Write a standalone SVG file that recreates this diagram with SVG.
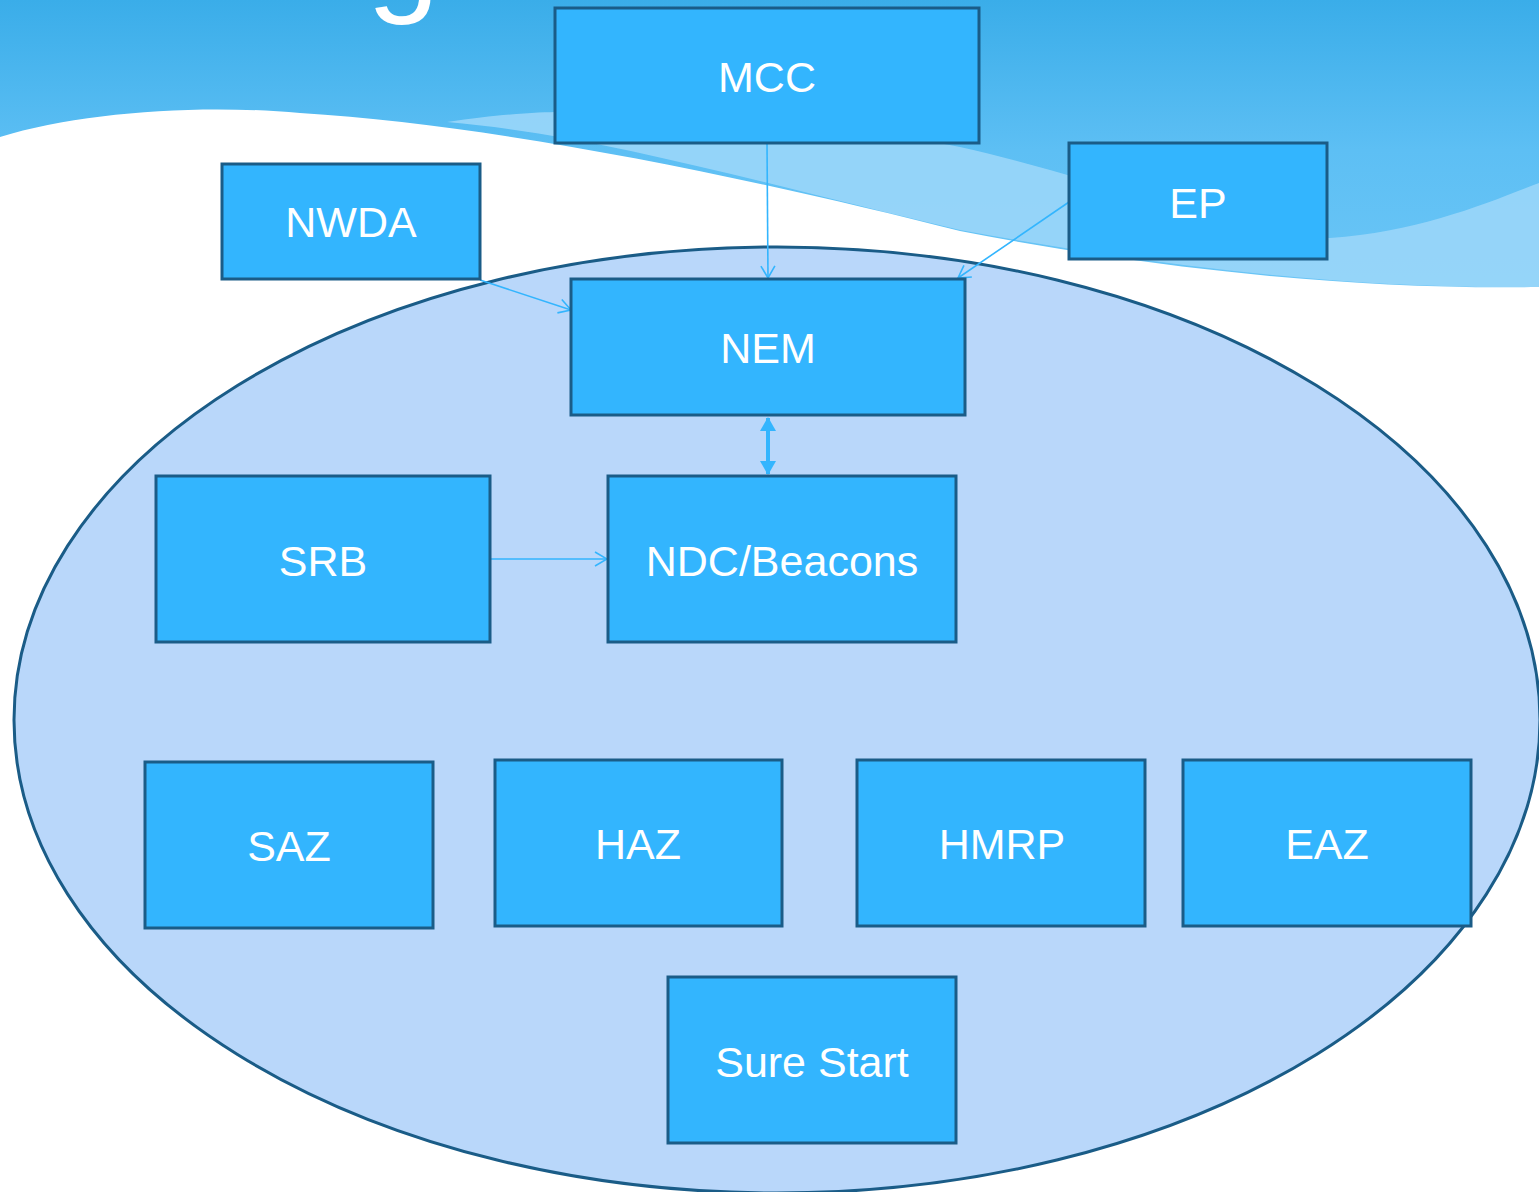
<svg xmlns="http://www.w3.org/2000/svg" width="1539" height="1192" viewBox="0 0 1539 1192">
<style>
.box{fill:#33B5FE;stroke:#1A5C87;stroke-width:3}
.lbl{font-family:"Liberation Sans",Arial,sans-serif;font-size:43px;fill:#FFFFFF;text-anchor:middle;dominant-baseline:central}
.conn{stroke:#33B5FE;stroke-width:1.6;fill:none}
</style>
<defs>
<linearGradient id="sky" x1="0" y1="0" x2="0" y2="1">
<stop offset="0" stop-color="#3AADE9"/>
<stop offset="0.5" stop-color="#5DBFF4"/>
<stop offset="1" stop-color="#6CC6F6"/>
</linearGradient>
<marker id="open" viewBox="0 0 14 16" refX="13" refY="8" markerWidth="14" markerHeight="16" markerUnits="userSpaceOnUse" orient="auto">
<path d="M1,1 L13,8 L1,15" fill="none" stroke="#33B5FE" stroke-width="1.6"/>
</marker>
<marker id="fill" viewBox="0 0 14 16" refX="13" refY="8" markerWidth="14" markerHeight="16" markerUnits="userSpaceOnUse" orient="auto-start-reverse">
<path d="M0,0 L14,8 L0,16 Z" fill="#33B5FE"/>
</marker>
</defs>
<rect x="0" y="0" width="1539" height="1192" fill="#FFFFFF"/>
<rect x="0" y="0" width="1539" height="300" fill="url(#sky)"/>
<path d="M447,122 C500,114 540,112 560,112 C800,122 900,135 960,147 C1100,178 1250,240 1330,238 C1420,232 1490,202 1539,183 L1539,287 C1350,290 1150,265 960,230 C760,183 600,135 447,122 Z" fill="#9AD6FA" opacity="0.9"/>
<path d="M0,137 C80,112 200,104 300,113 C500,125 760,180 960,231 C1150,268 1350,290 1539,287 L1539,1192 L0,1192 Z" fill="#FFFFFF"/>
<text x="367" y="-2" font-family="'Liberation Sans',Arial,sans-serif" font-size="130" fill="#FFFFFF">g</text>
<ellipse cx="777" cy="720" rx="763" ry="473" fill="#B9D7FA" stroke="#1A5C87" stroke-width="3"/>
<g id="connectors">
<line class="conn" x1="767" y1="143" x2="768" y2="278" marker-end="url(#open)"/>
<line class="conn" x1="480" y1="280" x2="571" y2="310" marker-end="url(#open)"/>
<line class="conn" x1="1069" y1="202" x2="958" y2="278" marker-end="url(#open)"/>
<line class="conn" x1="490" y1="559" x2="607" y2="559" marker-end="url(#open)"/>
<line x1="768" y1="418" x2="768" y2="474" stroke="#33B5FE" stroke-width="4" marker-start="url(#fill)" marker-end="url(#fill)"/>
</g>
<g id="MCC"><rect class="box" x="555" y="8" width="424" height="135"/><text class="lbl" x="767" y="77">MCC</text></g>
<g id="NWDA"><rect class="box" x="222" y="164" width="258" height="115"/><text class="lbl" x="351" y="222">NWDA</text></g>
<g id="EP"><rect class="box" x="1069" y="143" width="258" height="116"/><text class="lbl" x="1198" y="203">EP</text></g>
<g id="NEM"><rect class="box" x="571" y="279" width="394" height="136"/><text class="lbl" x="768" y="348">NEM</text></g>
<g id="SRB"><rect class="box" x="156" y="476" width="334" height="166"/><text class="lbl" x="323" y="561">SRB</text></g>
<g id="NDC"><rect class="box" x="608" y="476" width="348" height="166"/><text class="lbl" x="782" y="561">NDC/Beacons</text></g>
<g id="SAZ"><rect class="box" x="145" y="762" width="288" height="166"/><text class="lbl" x="289" y="846">SAZ</text></g>
<g id="HAZ"><rect class="box" x="495" y="760" width="287" height="166"/><text class="lbl" x="638" y="844">HAZ</text></g>
<g id="HMRP"><rect class="box" x="857" y="760" width="288" height="166"/><text class="lbl" x="1002" y="844">HMRP</text></g>
<g id="EAZ"><rect class="box" x="1183" y="760" width="288" height="166"/><text class="lbl" x="1327" y="844">EAZ</text></g>
<g id="SureStart"><rect class="box" x="668" y="977" width="288" height="166"/><text class="lbl" x="812" y="1062">Sure Start</text></g>
</svg>
